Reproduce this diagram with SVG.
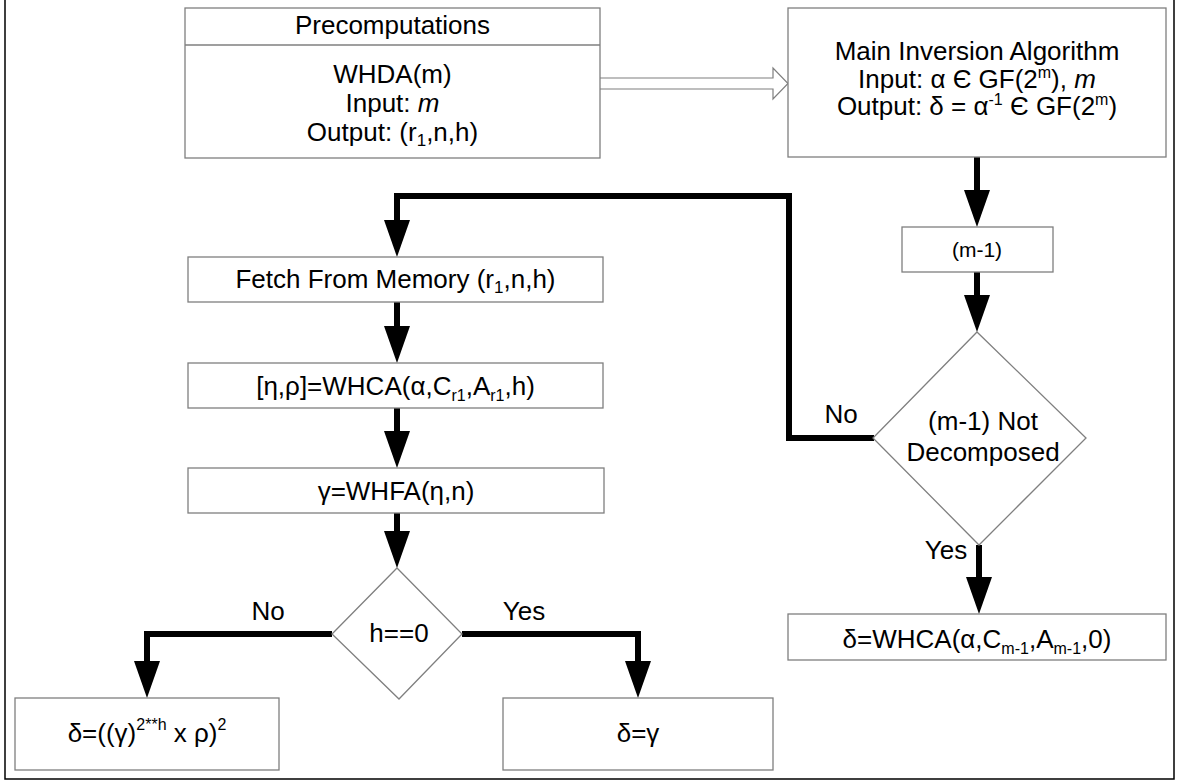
<svg xmlns="http://www.w3.org/2000/svg" width="1178" height="780" viewBox="0 0 1178 780">
<style>
.box{fill:#fff;stroke:#7f7f7f;stroke-width:1.3}
.conn{fill:none;stroke:#000;stroke-width:6;stroke-linejoin:miter}
text{font-family:"Liberation Sans",Arial,sans-serif;font-size:26px;fill:#000;text-anchor:middle}
.sm{font-size:21px}
.it{font-style:italic}
</style>
<defs>
<marker id="ah" markerUnits="userSpaceOnUse" markerWidth="37" markerHeight="26" refX="0" refY="13" orient="auto" viewBox="0 0 37 26"><path d="M0,0 L37,13 L0,26 Z" fill="#000"/></marker>
</defs>
<rect width="1178" height="780" fill="#fff"/>
<path d="M5,0 L5,779 L1174,779 L1174,0" fill="none" stroke="#000" stroke-width="1.5"/>

<g id="connectors">
<path d="M600,78 L773,78 L773,68 L788,83.5 L773,99 L773,89 L600,89" fill="#fff" stroke="#7f7f7f" stroke-width="1.2"/>
<path class="conn" d="M977,157 L977,190" marker-end="url(#ah)"/>
<path class="conn" d="M977,272 L977,295" marker-end="url(#ah)"/>
<path class="conn" d="M874,438 L789,438 L789,196 L397,196 L397,220" marker-end="url(#ah)"/>
<path class="conn" d="M397,302 L397,326" marker-end="url(#ah)"/>
<path class="conn" d="M397,408 L397,431" marker-end="url(#ah)"/>
<path class="conn" d="M397,513 L397,531" marker-end="url(#ah)"/>
<path class="conn" d="M332,634 L147,634 L147,661" marker-end="url(#ah)"/>
<path class="conn" d="M462,634 L638,634 L638,661" marker-end="url(#ah)"/>
<path class="conn" d="M979,545 L979,577" marker-end="url(#ah)"/>
<text x="841" y="423">No</text>
<text x="946" y="559">Yes</text>
<text x="268" y="620">No</text>
<text x="524" y="620">Yes</text>
</g>

<g id="precomputations">
<rect class="box" x="185" y="8" width="415" height="150"/>
<line x1="185" y1="45" x2="600" y2="45" stroke="#7f7f7f" stroke-width="1.3"/>
<text x="392.5" y="34">Precomputations</text>
<text x="392.5" y="83">WHDA(m)</text>
<text x="392.5" y="112">Input: <tspan class="it">m</tspan></text>
<text x="392.5" y="141">Output: (r<tspan font-size="17" dy="5">1</tspan><tspan dy="-5">,n,h)</tspan></text>
</g>

<g id="main">
<rect class="box" x="788" y="8" width="378" height="149"/>
<text x="977" y="60">Main Inversion Algorithm</text>
<text x="977" y="88">Input: α Є GF(2<tspan font-size="16" dy="-10">m</tspan><tspan dy="10">), </tspan><tspan class="it">m</tspan></text>
<text x="977" y="115">Output: δ = α<tspan font-size="16" dy="-10">-1</tspan><tspan dy="10"> Є GF(2</tspan><tspan font-size="16" dy="-10">m</tspan><tspan dy="10">)</tspan></text>
</g>

<g id="m1">
<rect class="box" x="902" y="227" width="151" height="45"/>
<text class="sm" x="977" y="257">(m-1)</text>
</g>

<g id="decomposed">
<path class="box" d="M977,332 L1086,438 L979,545 L873,438 Z"/>
<text x="983" y="430">(m-1) Not</text>
<text x="983" y="461">Decomposed</text>
</g>

<g id="fetch">
<rect class="box" x="188" y="257" width="415" height="45"/>
<text x="395.5" y="288">Fetch From Memory (r<tspan font-size="17" dy="5">1</tspan><tspan dy="-5">,n,h)</tspan></text>
</g>

<g id="whca">
<rect class="box" x="188" y="363" width="415" height="45"/>
<text x="395.5" y="395">[η,ρ]=WHCA(α,C<tspan font-size="16" dy="6">r1</tspan><tspan dy="-6">,A</tspan><tspan font-size="16" dy="6">r1</tspan><tspan dy="-6">,h)</tspan></text>
</g>

<g id="whfa">
<rect class="box" x="188" y="468" width="416" height="45"/>
<text x="396" y="500">γ=WHFA(η,n)</text>
</g>

<g id="h0">
<path class="box" d="M397,568 L462,634 L399,699 L332,634 Z"/>
<text x="399" y="642">h==0</text>
</g>

<g id="resno">
<rect class="box" x="15" y="698" width="264" height="72"/>
<text x="147" y="742">δ=((γ)<tspan font-size="16" dy="-12">2**h</tspan><tspan dy="12"> x ρ)</tspan><tspan font-size="16" dy="-12">2</tspan></text>
</g>

<g id="resyes">
<rect class="box" x="503" y="698" width="270" height="72"/>
<text x="638" y="742">δ=γ</text>
</g>

<g id="final">
<rect class="box" x="788" y="614" width="378" height="46"/>
<text x="977" y="648">δ=WHCA(α,C<tspan font-size="16" dy="6">m-1</tspan><tspan dy="-6">,A</tspan><tspan font-size="16" dy="6">m-1</tspan><tspan dy="-6">,0)</tspan></text>
</g>
</svg>
